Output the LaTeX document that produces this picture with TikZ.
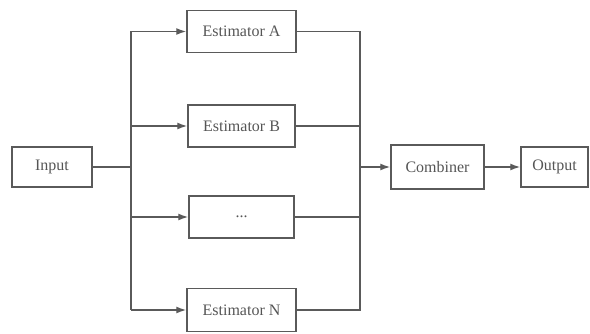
\documentclass[tikz,border=0pt]{standalone}
\usepackage{fontspec}
\setmainfont{Liberation Serif}
\usetikzlibrary{arrows.meta}
\definecolor{ln}{HTML}{5A5A5A}
\definecolor{tx}{HTML}{555555}
\begin{document}
\begin{tikzpicture}[x=1pt,y=-1pt,
  box/.style={draw=ln,line width=1.5pt,text=tx,font=\fontsize{16}{19}\selectfont,inner sep=0pt},
  conn/.style={draw=ln,line width=1.4pt},
  arr/.style={conn,-{Latex[length=10pt,width=7pt]}}]
\useasboundingbox (0,0) rectangle (590,334);
\node[box,minimum width=80pt,minimum height=40pt] (in) at (52,167) {Input};
\node[box,minimum width=109pt,minimum height=42pt] (a) at (241.5,31.5) {Estimator A};
\node[box,minimum width=107pt,minimum height=42pt] (b) at (241.5,126) {Estimator B};
\node[box,minimum width=105pt,minimum height=42pt] (d) at (241.5,217) {...};
\node[box,minimum width=109pt,minimum height=43pt] (n) at (241.5,310) {Estimator N};
\node[box,minimum width=93pt,minimum height=44pt] (c) at (437.5,167) {Combiner};
\node[box,minimum width=67pt,minimum height=40pt] (o) at (554.5,167) {Output};
\coordinate (s) at (131,167);
\coordinate (m) at (360,167);
\draw[conn] (in) -- (s);
\draw[conn] (s |- a) -- (s |- n);
\draw[arr] (s |- a) -- (a);
\draw[arr] (s |- b) -- (b);
\draw[arr] (s |- d) -- (d);
\draw[arr] (s |- n) -- (n);
\draw[conn] (a.east) -| (m);
\draw[conn] (n.east) -| (m);
\draw[conn] (b.east) -- (b.east -| m);
\draw[conn] (d.east) -- (d.east -| m);
\draw[arr] (m) -- (c);
\draw[arr] (c) -- (o);
\end{tikzpicture}
\end{document}
